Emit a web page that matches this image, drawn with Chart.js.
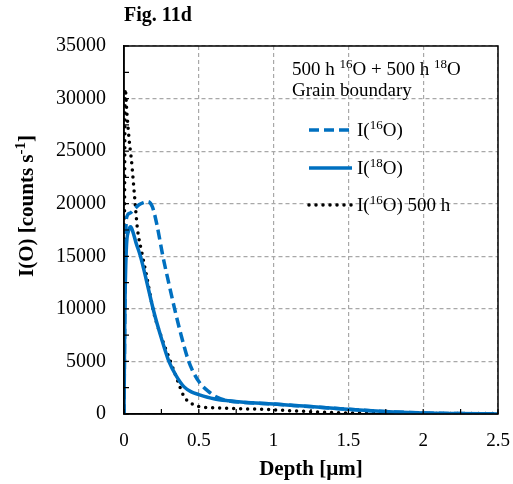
<!DOCTYPE html>
<html>
<head>
<meta charset="utf-8">
<script src="https://cdn.jsdelivr.net/npm/chart.js@4"></script>
<style>
  html, body { margin: 0; padding: 0; background: #fff; }
  #wrap { width: 513px; height: 484px; }
</style>
</head>
<body>
<div id="wrap"><canvas id="chart" width="513" height="484"></canvas></div>
<script>
// depth in µm, intensity in counts/s
const depth16 = [0, 0.01, 0.02, 0.04, 0.07, 0.1, 0.13, 0.16, 0.19, 0.22, 0.26, 0.3, 0.34, 0.38, 0.43, 0.47, 0.51, 0.56, 0.62, 0.7, 0.8, 1.0, 1.2, 1.4, 1.6, 1.8, 2.0, 2.2, 2.5];
const counts16 = [0, 16000, 18800, 19100, 19500, 19900, 20100, 20200, 19700, 18000, 15000, 12400, 9900, 7600, 5100, 3800, 2900, 2200, 1600, 1250, 1100, 950, 750, 550, 350, 200, 100, 50, 0];

const depth18 = [0, 0.005, 0.015, 0.03, 0.045, 0.06, 0.08, 0.11, 0.15, 0.2, 0.25, 0.3, 0.35, 0.4, 0.45, 0.5, 0.6, 0.7, 0.8, 1.0, 1.2, 1.4, 1.6, 1.8, 2.0, 2.2, 2.5];
const counts18 = [0, 9000, 15500, 17400, 17800, 17300, 16300, 15000, 12700, 9700, 7200, 5000, 3600, 2600, 2100, 1850, 1450, 1250, 1120, 950, 750, 550, 350, 200, 100, 50, 0];

const depthRef = [0, 0.008, 0.02, 0.035, 0.05, 0.07, 0.09, 0.12, 0.15, 0.2, 0.25, 0.3, 0.35, 0.4, 0.45, 0.5, 0.6, 0.8, 1.0, 1.2, 1.5, 2.0, 2.5];
const countsRef = [4000, 30900, 28500, 26000, 24100, 20800, 17600, 15300, 13200, 9600, 7300, 5400, 3500, 1700, 1000, 700, 600, 500, 400, 250, 100, 60, 50];

const xTicks = [0, 0.5, 1, 1.5, 2, 2.5];
const yTicks = [0, 5000, 10000, 15000, 20000, 25000, 30000, 35000];

const BLUE = "#0070C0";
const SERIF = "'Liberation Serif', 'Times New Roman', serif";

function toPoints(xs, ys) {
  return xs.map((x, i) => ({ x: x, y: ys[i] }));
}

// text with superscripts: parts = [[text, isSup], ...]
function richWidth(ctx, parts, size, weight) {
  let w = 0;
  parts.forEach(([txt, sup]) => {
    ctx.font = weight + (sup ? Math.round(size * 0.7) : size) + "px " + SERIF;
    w += ctx.measureText(txt).width;
  });
  return w;
}
function drawRich(ctx, parts, x, y, size, weight) {
  weight = weight || "";
  let cx = x;
  parts.forEach(([txt, sup]) => {
    ctx.font = weight + (sup ? Math.round(size * 0.7) : size) + "px " + SERIF;
    ctx.fillText(txt, cx, sup ? y - size * 0.36 : y);
    cx += ctx.measureText(txt).width;
  });
}

const decor = {
  id: "decor",
  afterDraw(chart) {
    const { ctx, chartArea: a, scales } = chart;
    ctx.save();
    // frame
    ctx.strokeStyle = "#000";
    ctx.lineWidth = 1.5;
    ctx.strokeRect(a.left, a.top, a.right - a.left, a.bottom - a.top);

    // inward tick marks
    ctx.lineWidth = 1.2;
    ctx.beginPath();
    for (let v = 0; v <= 2.5001; v += 0.25) {
      const px = scales.x.getPixelForValue(v);
      ctx.moveTo(px, a.bottom);
      ctx.lineTo(px, a.bottom - 5);
    }
    for (let v = 0; v <= 35000; v += 2500) {
      const py = scales.y.getPixelForValue(v);
      ctx.moveTo(a.left, py);
      ctx.lineTo(a.left + 5, py);
    }
    ctx.stroke();

    ctx.fillStyle = "#000";
    ctx.textBaseline = "alphabetic";
    ctx.textAlign = "left";

    // figure label
    ctx.font = "bold 20px " + SERIF;
    ctx.fillText("Fig. 11d", 124, 21);

    // axis titles
    ctx.font = "bold 21px " + SERIF;
    ctx.textAlign = "center";
    ctx.fillText("Depth [\u00B5m]", (a.left + a.right) / 2, 475);
    ctx.textAlign = "left";
    const yTitle = [["I(O) [counts s", false], ["-1", true], ["]", false]];
    const tw = richWidth(ctx, yTitle, 21, "bold ");
    ctx.save();
    ctx.translate(33, 206);
    ctx.rotate(-Math.PI / 2);
    drawRich(ctx, yTitle, -tw / 2, 0, 21, "bold ");
    ctx.restore();

    // legend header
    drawRich(ctx, [["500 h ", false], ["16", true], ["O + 500 h ", false], ["18", true], ["O", false]], 292, 75, 19);
    drawRich(ctx, [["Grain boundary", false]], 292, 96, 19);

    // legend entries
    const rows = [
      { y: 130, ds: 0, parts: [["I(", false], ["16", true], ["O)", false]] },
      { y: 168, ds: 1, parts: [["I(", false], ["18", true], ["O)", false]] },
      { y: 205, ds: 2, parts: [["I(", false], ["16", true], ["O) 500 h", false]] }
    ];
    rows.forEach(r => {
      const d = chart.data.datasets[r.ds];
      ctx.save();
      ctx.strokeStyle = d.borderColor;
      ctx.lineWidth = d.borderWidth;
      ctx.lineCap = d.borderCapStyle || "butt";
      ctx.setLineDash(d.borderDash || []);
      ctx.beginPath();
      ctx.moveTo(309, r.y);
      ctx.lineTo(352, r.y);
      ctx.stroke();
      ctx.restore();
      drawRich(ctx, r.parts, 357, r.y + 6, 19);
    });
    ctx.restore();
  }
};

new Chart(document.getElementById("chart"), {
  type: "line",
  data: {
    datasets: [
      {
        label: "I(16O)",
        data: toPoints(depth16, counts16),
        borderColor: BLUE,
        borderWidth: 3.5,
        borderDash: [10, 5],
        pointRadius: 0,
        cubicInterpolationMode: "monotone"
      },
      {
        label: "I(18O)",
        data: toPoints(depth18, counts18),
        borderColor: BLUE,
        borderWidth: 3.5,
        pointRadius: 0,
        cubicInterpolationMode: "monotone"
      },
      {
        label: "I(16O) 500 h",
        data: toPoints(depthRef, countsRef),
        borderColor: "#000",
        borderWidth: 3.5,
        borderDash: [0, 7],
        borderCapStyle: "round",
        pointRadius: 0,
        cubicInterpolationMode: "monotone"
      }
    ]
  },
  options: {
    responsive: false,
    animation: false,
    devicePixelRatio: 1,
    layout: { padding: { top: 46, right: 15, left: 0, bottom: 0 } },
    plugins: {
      legend: { display: false },
      tooltip: { enabled: false }
    },
    scales: {
      x: {
        type: "linear",
        min: 0,
        max: 2.5,
        afterBuildTicks: s => { s.ticks = xTicks.map(v => ({ value: v })); },
        afterFit: s => { s.height = 70; s.paddingLeft = 0; s.paddingRight = 0; },
        ticks: {
          color: "#000",
          font: { family: SERIF, size: 19 },
          padding: 16,
          maxRotation: 0,
          callback: v => String(v)
        },
        grid: { color: "#A8A8A8", lineWidth: 1.2, drawTicks: false },
        border: { color: "#000", width: 1.5, dash: [4, 3] }
      },
      y: {
        min: 0,
        max: 35000,
        afterBuildTicks: s => { s.ticks = yTicks.map(v => ({ value: v })); },
        afterFit: s => { s.width = 124; s.paddingTop = 0; s.paddingBottom = 0; },
        ticks: {
          color: "#000",
          font: { family: SERIF, size: 20 },
          padding: 18,
          callback: v => String(v)
        },
        grid: { color: "#A8A8A8", lineWidth: 1.2, drawTicks: false },
        border: { color: "#000", width: 1.5, dash: [4, 3] }
      }
    }
  },
  plugins: [decor]
});
</script>
</body>
</html>
